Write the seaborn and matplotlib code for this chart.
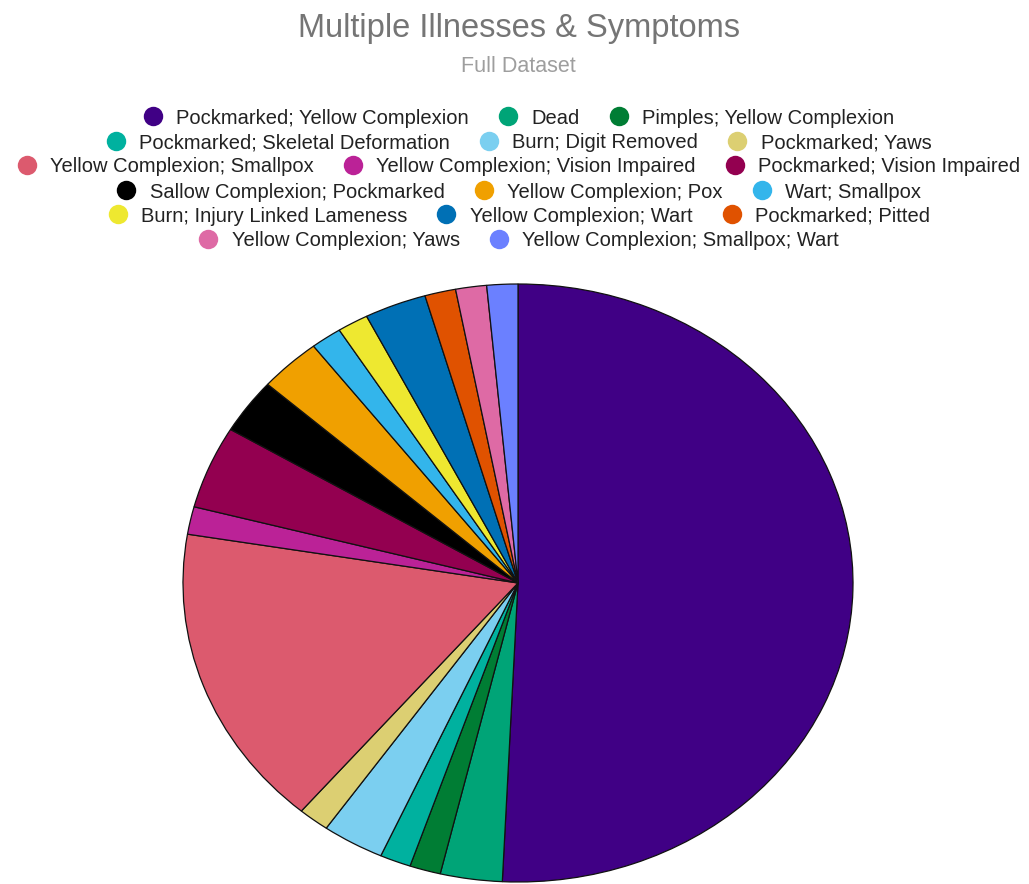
import matplotlib
matplotlib.use("Agg")
import matplotlib.pyplot as plt
from matplotlib.lines import Line2D
import seaborn as sns

# Case counts per illness / symptom combination
categories = [
    "Pockmarked; Yellow Complexion",
    "Dead",
    "Pimples; Yellow Complexion",
    "Pockmarked; Skeletal Deformation",
    "Burn; Digit Removed",
    "Pockmarked; Yaws",
    "Yellow Complexion; Smallpox",
    "Yellow Complexion; Vision Impaired",
    "Pockmarked; Vision Impaired",
    "Sallow Complexion; Pockmarked",
    "Yellow Complexion; Pox",
    "Wart; Smallpox",
    "Burn; Injury Linked Lameness",
    "Yellow Complexion; Wart",
    "Pockmarked; Pitted",
    "Yellow Complexion; Yaws",
    "Yellow Complexion; Smallpox; Wart",
]
counts = [34, 2, 1, 1, 2, 1, 11, 1, 3, 2, 2, 1, 1, 2, 1, 1, 1]
slice_colors = [
    "#400085", "#00A477", "#007D34", "#00B19F", "#7BCFF0", "#DCCF72",
    "#DC5A6E", "#BB2297", "#930050", "#000000", "#F0A000", "#33B5EB",
    "#EEE830", "#0070B5", "#E05200", "#DE6AA5", "#6B80FF",
]
legend_rows = [3, 3, 3, 3, 3, 2]

sns.set_style("white")
plt.rcParams["font.family"] = ["Liberation Sans", "DejaVu Sans"]
palette = sns.color_palette(slice_colors)

fig = plt.figure(figsize=(10.29, 8.84), dpi=100)

# Pie axes: stretched horizontally, partly running off the bottom edge
ax = fig.add_axes([183 / 1029, 2 / 884, 670 / 1029, 598 / 884])
wedges, _ = ax.pie(
    counts,
    colors=palette,
    startangle=90,
    counterclock=False,
    radius=1.0,
    wedgeprops=dict(edgecolor="#111111", linewidth=0.9),
)
for w in wedges:
    w.set_clip_on(False)
ax.set_aspect("auto")
ax.set_xlim(-1, 1)
ax.set_ylim(-1, 1)
ax.axis("off")

fig.text(0.504, 1 - 28 / 884, "Multiple Illnesses & Symptoms",
         ha="center", va="center", fontsize=23.5, color="#757575")
fig.text(0.504, 1 - 66 / 884, "Full Dataset",
         ha="center", va="center", fontsize=15.5, color="#9E9E9E")

# Centered legend rows, each row laid out by its own legend
row_y = [118, 143, 167, 192, 216, 241]
start = 0
for n, yp in zip(legend_rows, row_y):
    handles = [
        Line2D([], [], linestyle="none", marker="o", markersize=14,
               markerfacecolor=palette[i], markeredgewidth=0)
        for i in range(start, start + n)
    ]
    labels = categories[start:start + n]
    leg = fig.legend(
        handles, labels, loc="center", bbox_to_anchor=(0.504, 1 - yp / 884),
        ncol=n, frameon=False, fontsize=14.5, handlelength=1.0,
        handletextpad=0.65, columnspacing=1.45, borderpad=0, borderaxespad=0,
    )
    for t in leg.get_texts():
        t.set_color("#222222")
    start += n

fig.savefig("out.png", dpi=100)
